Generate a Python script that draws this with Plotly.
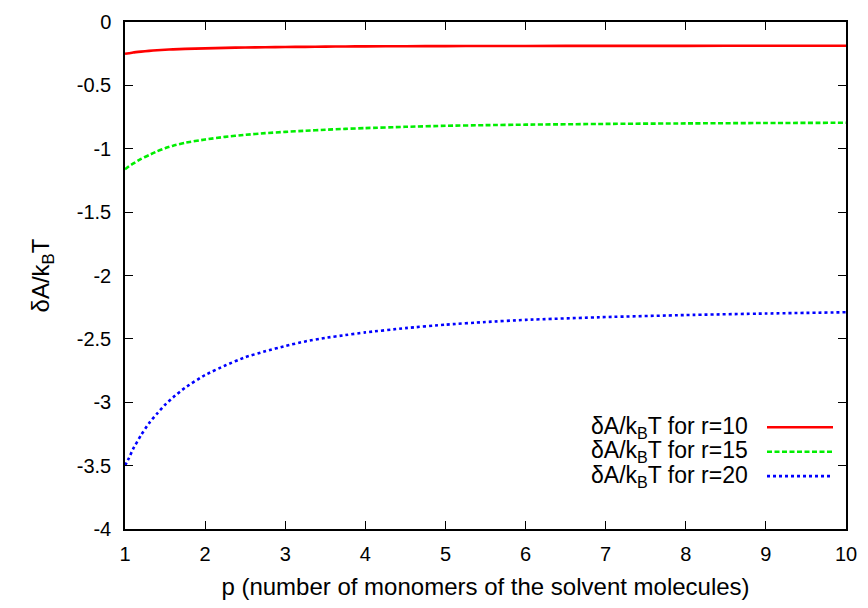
import plotly.graph_objects as go

# Data
p = [1, 1.05, 1.1, 1.2, 1.3, 1.4, 1.5, 1.6, 1.75, 2, 2.25, 2.5, 2.75, 3, 3.25,
     3.5, 3.75, 4, 4.5, 5, 5.5, 6, 7, 8, 9, 10]
r10 = [-0.251, -0.246, -0.241, -0.234, -0.228, -0.223, -0.219, -0.216, -0.212,
       -0.208, -0.204, -0.201, -0.199, -0.197, -0.196, -0.194, -0.193, -0.192,
       -0.191, -0.190, -0.189, -0.189, -0.188, -0.188, -0.187, -0.187]
r15 = [-1.162, -1.138, -1.118, -1.080, -1.050, -1.020, -0.996, -0.976, -0.953,
       -0.927, -0.906, -0.890, -0.877, -0.867, -0.858, -0.850, -0.843, -0.837,
       -0.827, -0.819, -0.814, -0.810, -0.804, -0.800, -0.797, -0.795]
r20 = [-3.500, -3.440, -3.370, -3.260, -3.165, -3.090, -3.020, -2.962, -2.885,
       -2.785, -2.710, -2.645, -2.598, -2.556, -2.520, -2.492, -2.470, -2.449,
       -2.415, -2.388, -2.367, -2.350, -2.328, -2.312, -2.300, -2.290]

series_names = ["r=10", "r=15", "r=20"]
series_vals = [r10, r15, r20]
colors = ["#ff0000", "#00ee00", "#0000ff"]
dashes = ["solid", "5px,2.5px", "3px,3px"]

x_ticks = list(range(1, 11))
y_ticks = [0, -0.5, -1, -1.5, -2, -2.5, -3, -3.5, -4]
y_ticktext = ["0", "-0.5", "-1", "-1.5", "-2", "-2.5", "-3", "-3.5", "-4"]

FONT = "Liberation Sans, Arial, Helvetica, sans-serif"

fig = go.Figure()
for name, vals, c, d in zip(series_names, series_vals, colors, dashes):
    fig.add_trace(go.Scatter(
        x=p, y=vals, mode="lines", name=name,
        line=dict(color=c, width=2.6, dash=d, shape="spline", smoothing=0.5),
        showlegend=False,
    ))

W, H = 868, 608
ml, mr, mt, mb = 125, 22, 11, 79
pw, ph = W - ml - mr, H - mt - mb

# gnuplot-style key: text right-aligned, sample line to its right
leg_rows_y = [425, 450, 475]
for i, (name, c, d) in enumerate(zip(series_names, colors, dashes)):
    yp = 1 - (leg_rows_y[i] - mt) / ph
    fig.add_annotation(
        xref="paper", yref="paper", x=(750 - ml) / pw, y=yp,
        xanchor="right", yanchor="middle", showarrow=False,
        text="δA/k<sub>B</sub>T for " + name,
        font=dict(family=FONT, size=23, color="black"),
    )
    fig.add_shape(
        type="line", xref="paper", yref="paper",
        x0=(767 - ml) / pw, x1=(833 - ml) / pw, y0=yp, y1=yp,
        line=dict(color=c, width=2.6, dash=d),
    )

fig.update_layout(
    width=W, height=H,
    margin=dict(l=ml, r=mr, t=mt, b=mb),
    paper_bgcolor="white", plot_bgcolor="white",
    font=dict(family=FONT, size=20, color="black"),
    xaxis=dict(
        range=[1, 10], tickvals=x_ticks, ticks="inside", ticklen=8,
        tickwidth=1.2, tickcolor="black",
        showline=True, linecolor="black", linewidth=1.5, mirror="allticks",
        showgrid=False, zeroline=False,
        title=dict(text="p (number of monomers of the solvent molecules)",
                   standoff=14),
        ticklabelstandoff=6,
    ),
    yaxis=dict(
        range=[-4, 0], tickvals=y_ticks, ticktext=y_ticktext,
        ticks="inside", ticklen=8, tickwidth=1.2, tickcolor="black",
        showline=True, linecolor="black", linewidth=1.5, mirror="allticks",
        showgrid=False, zeroline=False,
        title=dict(text="δA/k<sub>B</sub>T", standoff=20),
        ticklabelstandoff=8,
    ),
)

fig.write_html("out.html")
